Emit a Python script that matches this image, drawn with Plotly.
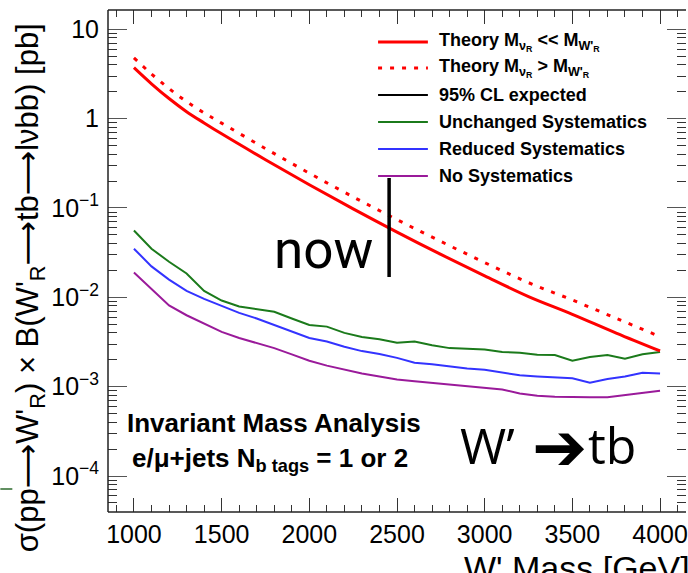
import plotly.graph_objects as go

# ---------------- data ----------------
mass_theory = [1000, 1100, 1200, 1300, 1400, 1500, 1750, 2000, 2250, 2500, 2750, 3000, 3250, 3500, 3750, 4000]
theory_ll = [3.72, 2.455, 1.679, 1.197, 0.895, 0.676, 0.347, 0.182, 0.0977, 0.0537, 0.0302, 0.0174, 0.0102, 0.00646, 0.00398, 0.00251]
theory_gt = [4.79, 3.16, 2.17, 1.55, 1.16, 0.891, 0.462, 0.245, 0.133, 0.0741, 0.0422, 0.0245, 0.0146, 0.00933, 0.00582, 0.00363]

mass_lim = [1000, 1100, 1200, 1300, 1400, 1500, 1600, 1700, 1800, 1900, 2000,
            2100, 2200, 2300, 2400, 2500, 2600, 2700, 2800, 2900, 3000,
            3100, 3200, 3300, 3400, 3500, 3600, 3700, 3800, 3900, 4000]
unchanged_sys = [0.056, 0.035, 0.025, 0.0185, 0.0118, 0.0092, 0.0079, 0.0074, 0.0069, 0.0058, 0.0049,
                 0.0047, 0.0040, 0.0036, 0.0034, 0.0031, 0.0032, 0.0029, 0.0027, 0.00265, 0.0026,
                 0.00245, 0.0024, 0.00228, 0.00226, 0.00195, 0.00215, 0.00226, 0.00205, 0.0023, 0.00245]
reduced_sys = [0.035, 0.0222, 0.0158, 0.0118, 0.0096, 0.0080, 0.0067, 0.0058, 0.0049, 0.0041, 0.0035,
               0.0032, 0.0028, 0.0025, 0.00232, 0.0021, 0.00185, 0.00178, 0.00168, 0.0016, 0.00155,
               0.00145, 0.00134, 0.0013, 0.00126, 0.00124, 0.00111, 0.00122, 0.0013, 0.00143, 0.0014]
no_sys = [0.019, 0.0125, 0.0081, 0.0063, 0.0051, 0.0041, 0.0035, 0.0031, 0.0027, 0.0023, 0.00195,
          0.00172, 0.00155, 0.0014, 0.0013, 0.0012, 0.00115, 0.0011, 0.00105, 0.0010, 0.00096,
          0.00093, 0.00084, 0.00079, 0.00077, 0.00076, 0.00076, 0.00076, 0.0008, 0.00085, 0.0009]

now_mass = 2455
x_tickvals = [1000, 1500, 2000, 2500, 3000, 3500, 4000]
x_ticktext = ["1000", "1500", "2000", "2500", "3000", "3500", "4000"]
y_tickvals = [10, 1, 0.1, 0.01, 0.001, 0.0001]
y_ticktext = ["10", "1", "10<sup>\u22121</sup>", "10<sup>\u22122</sup>", "10<sup>\u22123</sup>", "10<sup>\u22124</sup>"]

legend_labels = [
    "<b>Theory M<sub>\u03bd<sub>R</sub></sub> << M<sub>W'<sub>R</sub></sub></b>",
    "<b>Theory M<sub>\u03bd<sub>R</sub></sub> > M<sub>W'<sub>R</sub></sub></b>",
    "<b>95% CL expected</b>",
    "<b>Unchanged Systematics</b>",
    "<b>Reduced Systematics</b>",
    "<b>No Systematics</b>",
]

# ---------------- styles ----------------
RED = "#ff0000"
GREEN = "#1b7a1b"
BLUE = "#3333ff"
PURPLE = "#9a1a9a"
DOT = "4px,8px"
legend_styles = [(RED, 3, "solid"), (RED, 3, DOT), ("#000000", 2, "solid"),
                 (GREEN, 2, "solid"), (BLUE, 2, "solid"), (PURPLE, 2, "solid")]

W, H = 688, 573
L, R, T, B = 108, 688, 10, 512  # plot area in pixels


def px(x):
    return (x - L) / (R - L)


def py(y):
    return (B - y) / (B - T)


fig = go.Figure()
fig.add_trace(go.Scatter(x=mass_lim, y=unchanged_sys, mode="lines", line=dict(color=GREEN, width=2)))
fig.add_trace(go.Scatter(x=mass_lim, y=reduced_sys, mode="lines", line=dict(color=BLUE, width=2)))
fig.add_trace(go.Scatter(x=mass_lim, y=no_sys, mode="lines", line=dict(color=PURPLE, width=2)))
fig.add_trace(go.Scatter(x=mass_theory, y=theory_gt, mode="lines", line=dict(color=RED, width=3, dash=DOT, shape="spline")))
fig.add_trace(go.Scatter(x=mass_theory, y=theory_ll, mode="lines", line=dict(color=RED, width=3, shape="spline")))

shapes = []
annotations = []

# frame lines (left, bottom, top)
for x0, y0, x1, y1 in [(0, 0, 0, 1), (0, 0, 1, 0), (0, 1, 1, 1)]:
    shapes.append(dict(type="line", xref="paper", yref="paper", x0=x0, y0=y0, x1=x1, y1=y1,
                       line=dict(color="#222222", width=1.5)))

# "now" marker
shapes.append(dict(type="line", xref="x", yref="paper", x0=now_mass, x1=now_mass,
                   y0=py(277), y1=py(178), line=dict(color="black", width=3.5)))

# green artifact at left edge
shapes.append(dict(type="line", xref="paper", yref="paper", x0=px(0), x1=px(12), y0=py(489), y1=py(489),
                   line=dict(color="#2d6a2d", width=1.5)))

# manual legend
rows = [42, 68, 95, 122, 149, 176]
for ry, lab, (c, w, d) in zip(rows, legend_labels, legend_styles):
    shapes.append(dict(type="line", xref="paper", yref="paper", x0=px(379), x1=px(429), y0=py(ry), y1=py(ry),
                       line=dict(color=c, width=w, dash=d)))
    annotations.append(dict(xref="paper", yref="paper", x=px(438), y=py(ry), xanchor="left", yanchor="middle",
                            text=lab, showarrow=False,
                            font=dict(family="Liberation Sans, Arial", size=18, color="black")))

# ROOT texts
annotations.append(dict(xref="paper", yref="paper", x=px(125), y=py(423), xanchor="left", yanchor="middle",
                        text="<b>Invariant Mass Analysis</b>", showarrow=False,
                        font=dict(family="Liberation Sans, Arial", size=26, color="black")))
annotations.append(dict(xref="paper", yref="paper", x=px(130), y=py(459), xanchor="left", yanchor="middle",
                        text="<b>e/\u03bc+jets N<sub>b tags</sub> = 1 or 2</b>", showarrow=False,
                        font=dict(family="Liberation Sans, Arial", size=26, color="black")))

# slide texts
annotations.append(dict(xref="paper", yref="paper", x=px(273), y=py(250), xanchor="left", yanchor="middle",
                        text="now", showarrow=False,
                        font=dict(family="Roboto", size=53, color="black")))
annotations.append(dict(xref="paper", yref="paper", x=px(459), y=py(445), xanchor="left", yanchor="middle",
                        text="W\u2019", showarrow=False,
                        font=dict(family="Open Sans", size=50, color="black")))
annotations.append(dict(xref="paper", yref="paper", x=px(531), y=py(447), xanchor="left", yanchor="middle",
                        text="\u2794", showarrow=False,
                        font=dict(family="DejaVu Sans", size=66, color="black")))
annotations.append(dict(xref="paper", yref="paper", x=px(588), y=py(445), xanchor="left", yanchor="middle",
                        text="tb", showarrow=False,
                        font=dict(family="Open Sans", size=50, color="black")))

# axis titles
annotations.append(dict(xref="paper", yref="paper", x=px(694), y=py(547), xanchor="right", yanchor="top",
                        text="W' Mass [GeV]", showarrow=False,
                        font=dict(family="Liberation Sans, Arial", size=34, color="black")))
annotations.append(dict(xref="paper", yref="paper", x=px(30), y=py(288), xanchor="center", yanchor="middle",
                        textangle=-90,
                        text="\u03c3(pp\u27f6W'<sub>R</sub>) \u00d7 B(W'<sub>R</sub>\u27f6tb\u27f6l\u03bdbb) [pb]",
                        showarrow=False,
                        font=dict(family="Liberation Sans, DejaVu Sans", size=31, color="black")))

fig.update_layout(
    width=W, height=H,
    margin=dict(l=L, r=W - R, t=T, b=H - B, pad=0),
    paper_bgcolor="white", plot_bgcolor="white",
    showlegend=False,
    shapes=shapes, annotations=annotations,
    xaxis=dict(range=[852, 4148], showgrid=False, zeroline=False, showline=False,
               tickmode="array", tickvals=x_tickvals, ticktext=x_ticktext,
               ticks="inside", ticklen=14, tickwidth=1.2, tickcolor="#333333", mirror="ticks",
               minor=dict(ticks="inside", ticklen=7, dtick=100, tick0=1000, tickcolor="#333333", tickwidth=1.2),
               tickfont=dict(family="Liberation Sans, Arial", size=25, color="black"),
               ticklabelstandoff=5, ticklabeloverflow="allow"),
    yaxis=dict(type="log", range=[-4.403, 1.216], showgrid=False, zeroline=False, showline=False,
               tickmode="array", tickvals=y_tickvals, ticktext=y_ticktext,
               ticks="inside", ticklen=19, tickwidth=1.2, tickcolor="#555555", mirror="ticks",
               minor=dict(ticks="inside", ticklen=9, dtick="D1", tickcolor="#333333", tickwidth=1.2),
               tickfont=dict(family="Liberation Sans, Arial", size=25, color="black"),
               ticklabelstandoff=8),
)

fig.write_html("out.html")
